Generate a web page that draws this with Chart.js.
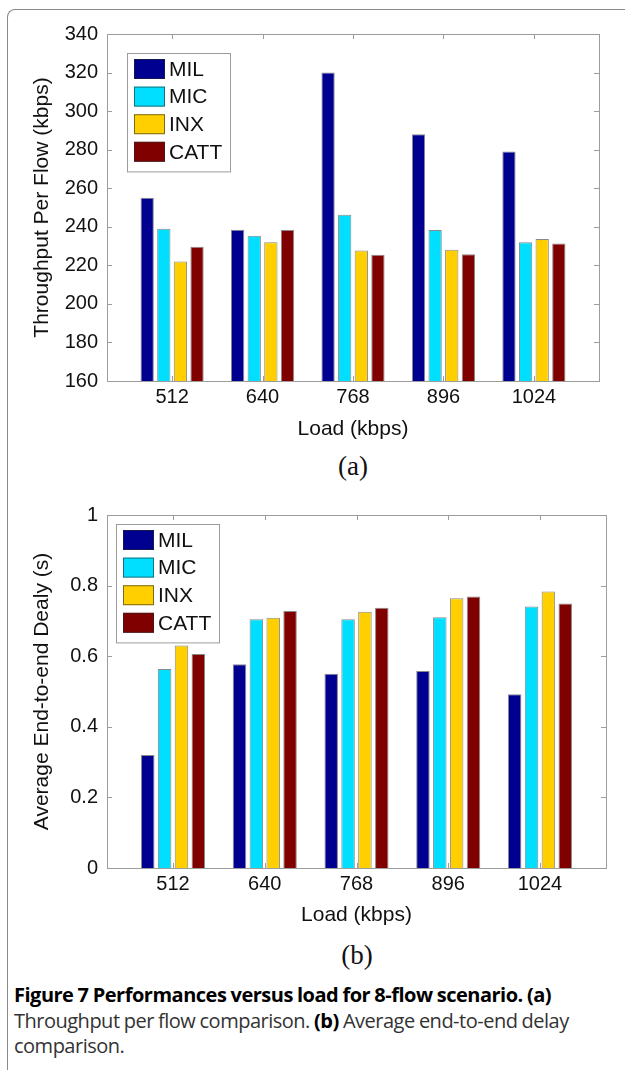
<!DOCTYPE html>
<html>
<head>
<meta charset="utf-8">
<script src="https://cdn.jsdelivr.net/npm/chart.js@4.4.1/dist/chart.umd.min.js"></script>
<style>
  html, body { margin: 0; padding: 0; background: #fff; }
  body { width: 625px; height: 1070px; position: relative; overflow: hidden; }
  #frame { position: absolute; left: 7px; top: 9px; width: 660px; height: 1100px;
    border-top: 1.5px solid #8a8a8a; border-left: 1.5px solid #8a8a8a; border-top-left-radius: 8px; }
  canvas { position: absolute; left: 0; }
  .sub { position: absolute; font-family: "Liberation Serif", serif; font-size: 27px; color: #111;
    text-align: center; width: 120px; line-height: 30px; }
  #caption { position: absolute; left: 14px; top: 982px; width: 611px; font-family: "Open Sans", sans-serif;
    font-size: 20px; line-height: 25.5px; color: #333; letter-spacing: -0.5px; word-spacing: -0.5px; }
  #caption b { color: #000; }
</style>
</head>
<body>
<div id="frame"></div>
<canvas id="chartA" width="625" height="450" style="top:0"></canvas>
<div class="sub" style="left:293px; top:451px">(a)</div>
<canvas id="chartB" width="625" height="450" style="top:490px"></canvas>
<div class="sub" style="left:297px; top:940px">(b)</div>
<div id="caption"><b>Figure 7 Performances versus load for 8-flow scenario. (a)</b><br>Throughput per flow comparison. <b>(b)</b> Average end-to-end delay<br>comparison.</div>
<script>
var categories = ["512", "640", "768", "896", "1024"];
var seriesNames = ["MIL", "MIC", "INX", "CATT"];
var seriesColors = ["#000090", "#00DFFF", "#FFCF00", "#800000"];

// throughput per flow (kbps)
var thrMIL = [255, 238.5, 320, 288, 279];
var thrMIC = [239, 235.3, 246.3, 238.3, 232];
var thrINX = [222, 232, 227.7, 228.1, 233.6];
var thrCATT = [229.6, 238.3, 225.5, 225.7, 231.3];

// average end-to-end delay (s)
var dlyMIL = [0.32, 0.577, 0.55, 0.558, 0.492];
var dlyMIC = [0.564, 0.705, 0.705, 0.71, 0.741];
var dlyINX = [0.63, 0.709, 0.726, 0.764, 0.783];
var dlyCATT = [0.606, 0.728, 0.737, 0.769, 0.749];

var thrTicks = [160, 180, 200, 220, 240, 260, 280, 300, 320, 340];
var dlyTicks = [0, 0.2, 0.4, 0.6, 0.8, 1];

var FONT = '"Liberation Sans", Arial, sans-serif';

function toPoints(arr) {
	return arr.map(function (v, i) { return { x: i, y: v }; });
}

function makeDatasets(list) {
	return list.map(function (arr, k) {
		return {
			label: seriesNames[k],
			data: toPoints(arr),
			backgroundColor: seriesColors[k],
			borderColor: 'rgba(40,40,40,0.55)',
			borderWidth: 1,
			categoryPercentage: 0.735,
			barPercentage: 0.8
		};
	});
}

// box round the plot with inward ticks, plus the boxed legend
var matlabFrame = {
	id: 'matlabFrame',
	afterDatasetsDraw: function (chart, args, opts) {
		var ctx = chart.ctx, a = chart.chartArea;
		var xs = chart.scales.x, ys = chart.scales.y;
		ctx.save();
		ctx.strokeStyle = '#9c9c9c';
		ctx.lineWidth = 1;
		ctx.strokeRect(Math.round(a.left) + 0.5, Math.round(a.top) + 0.5,
			Math.round(a.right - a.left), Math.round(a.bottom - a.top));
		ctx.beginPath();
		ys.ticks.forEach(function (t) {
			var y = Math.round(ys.getPixelForValue(t.value)) + 0.5;
			ctx.moveTo(a.left, y); ctx.lineTo(a.left + 5, y);
			ctx.moveTo(a.right, y); ctx.lineTo(a.right - 5, y);
		});
		xs.ticks.forEach(function (t) {
			var x = Math.round(xs.getPixelForValue(t.value)) + 0.5;
			ctx.moveTo(x, a.top); ctx.lineTo(x, a.top + 5);
			ctx.moveTo(x, a.bottom); ctx.lineTo(x, a.bottom - 5);
		});
		ctx.stroke();

		// legend
		var lx = a.left + opts.dx, ly = a.top + opts.dy;
		var n = chart.data.datasets.length;
		var rowH = 27.6;
		ctx.fillStyle = '#fff';
		ctx.fillRect(lx, ly, 103, 8 + n * rowH);
		ctx.strokeStyle = '#9c9c9c';
		ctx.strokeRect(lx + 0.5, ly + 0.5, 103, 8 + n * rowH);
		ctx.font = '21px ' + FONT;
		ctx.textBaseline = 'middle';
		chart.data.datasets.forEach(function (ds, i) {
			var sy = ly + 6 + i * rowH;
			ctx.fillStyle = ds.backgroundColor;
			ctx.fillRect(lx + 7, sy, 31, 20);
			ctx.strokeStyle = 'rgba(40,40,40,0.6)';
			ctx.strokeRect(lx + 7.5, sy + 0.5, 30, 19);
			ctx.fillStyle = '#111';
			ctx.fillText(ds.label, lx + 42, sy + 11);
		});
		ctx.restore();
	}
};

function makeChart(id, datasets, yMin, yMax, yTickList, yTitle, geo) {
	return new Chart(document.getElementById(id).getContext('2d'), {
		type: 'bar',
		data: { datasets: datasets },
		plugins: [matlabFrame],
		options: {
			responsive: false,
			devicePixelRatio: 1,
			animation: false,
			layout: { padding: geo.pad },
			plugins: {
				legend: { display: false },
				tooltip: { enabled: false },
				matlabFrame: { dx: geo.legDx, dy: geo.legDy }
			},
			scales: {
				x: {
					type: 'linear',
					offset: false,
					min: -0.72,
					max: 4.72,
					grid: { display: false, drawTicks: false, offset: false },
					border: { display: false },
					afterBuildTicks: function (s) {
						s.ticks = categories.map(function (c, i) { return { value: i }; });
					},
					afterFit: function (s) { s.height = geo.xH; },
					ticks: {
						padding: 4,
						color: '#111',
						font: { family: FONT, size: 20 },
						callback: function (v) { return categories[v]; }
					},
					title: {
						display: true,
						text: 'Load (kbps)',
						color: '#111',
						padding: 0,
						font: { family: FONT, size: 21 }
					}
				},
				y: {
					min: yMin,
					max: yMax,
					grid: { display: false, drawTicks: false },
					border: { display: false },
					afterBuildTicks: function (s) {
						s.ticks = yTickList.map(function (v) { return { value: v }; });
					},
					afterFit: function (s) { s.width = geo.yW; },
					ticks: {
						padding: geo.yPad,
						color: '#111',
						font: { family: FONT, size: 20 },
						callback: function (v) { return String(Number(v.toFixed(2))); }
					},
					title: {
						display: true,
						text: yTitle,
						color: '#111',
						padding: 0,
						font: { family: FONT, size: 21 }
					}
				}
			}
		}
	});
}

makeChart('chartA', makeDatasets([thrMIL, thrMIC, thrINX, thrCATT]), 160, 340, thrTicks,
	'Throughput Per Flow (kbps)',
	{ pad: { top: 34, right: 26, bottom: 8, left: 30 }, yW: 77, xH: 61, yPad: 9, legDx: 20, legDy: 19 });

makeChart('chartB', makeDatasets([dlyMIL, dlyMIC, dlyINX, dlyCATT]), 0, 1, dlyTicks,
	'Average End-to-end Dealy (s)',
	{ pad: { top: 25, right: 19, bottom: 12, left: 30 }, yW: 77, xH: 60, yPad: 9, legDx: 9, legDy: 9 });
</script>
</body>
</html>
